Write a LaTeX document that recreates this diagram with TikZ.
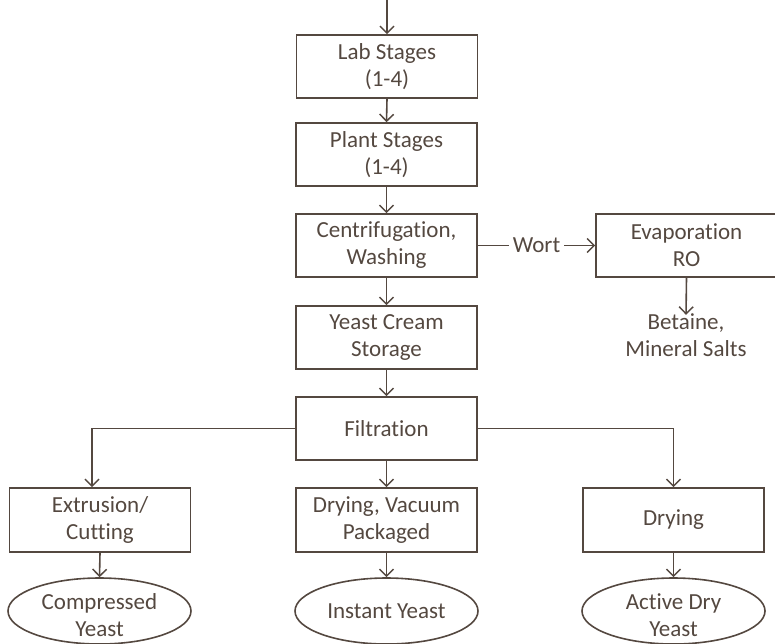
\documentclass[tikz,border=0pt]{standalone}
\usepackage{fontspec}
\setmainfont{Carlito}[RawFeature={-liga;-clig;-calt}]
\usetikzlibrary{arrows.meta,shapes.geometric,calc}
\definecolor{ink}{RGB}{84,72,64}
\tikzset{
  procbox/.style={draw=ink, line width=1.6pt, rectangle, minimum width=181pt, minimum height=63pt, inner sep=0pt, text=ink, align=center, font=\fontsize{23}{27}\selectfont},
  prodell/.style={draw=ink, line width=1.6pt, ellipse, minimum width=183pt, minimum height=66pt, inner sep=0pt},
  lbl/.style={text=ink, align=center, inner sep=0pt, font=\fontsize{23}{27}\selectfont},
  conn/.style={draw=ink, line width=1.6pt},
  arr/.style={conn, -{Straight Barb[length=7pt,width=14pt,line width=1.5pt]}}
}
\begin{document}
\begin{tikzpicture}[x=1pt,y=-1pt]
\useasboundingbox (0,0) rectangle (775,643);
\coordinate (start) at (387,0);
\node[procbox] (lab) at (387,66.5) {Lab Stages\\(1-4)};
\node[procbox] (plant) at (386.5,154.5) {Plant Stages\\(1-4)};
\node[procbox] (centr) at (386.5,245.5) {Centrifugation,\\Washing};
\node[procbox] (evap) at (686.5,245.5) {Evaporation\\RO};
\node[lbl] (wort) at (536.5,245.5) {Wort};
\node[lbl] (bet) at (686,335.5) {Betaine,\\Mineral Salts};
\node[procbox] (cream) at (386.5,337.5) {Yeast Cream\\Storage};
\node[procbox] (filt) at (386.5,428.5) {Filtration};
\node[procbox, minimum height=64pt] (ext) at (100,520) {Extrusion/\\Cutting};
\node[procbox, minimum height=64pt] (vac) at (386.5,520) {Drying, Vacuum\\Packaged};
\node[procbox, minimum height=64pt] (dry) at (673.5,520) {Drying};
\node[prodell] (e1) at (99.5,611) {};
\node[prodell] (e2) at (386.5,611) {};
\node[prodell] (e3) at (673.5,611) {};
\node[lbl] (t1) at ($(e1.center)+(0,4)$) {Compressed\\Yeast};
\node[lbl] (t2) at (e2.center) {Instant Yeast};
\node[lbl] (t3) at ($(e3.center)+(0,4)$) {Active Dry\\Yeast};
\coordinate (bl) at (92,428.5);
\coordinate (br) at (673.5,428.5);

\draw[arr] (start) -- (lab.north);
\draw[arr] (lab.south) -- (plant.north);
\draw[arr] (plant.south) -- (centr.north);
\draw[conn] (centr.east) -- ([xshift=-4pt]wort.west);
\draw[arr] ([xshift=4pt]wort.east) -- (evap.west);
\draw[arr] (evap.south) -- ([yshift=-1pt]bet.north);
\draw[arr] (centr.south) -- (cream.north);
\draw[arr] (cream.south) -- (filt.north);
\draw[arr] (filt.west) -- (bl) -- (bl |- ext.north);
\draw[arr] (filt.east) -- (br) -- (dry.north);
\draw[arr] (filt.south) -- (vac.north);
\draw[arr] (ext.south) -- (e1.north);
\draw[arr] (vac.south) -- (e2.north);
\draw[arr] (dry.south) -- (e3.north);
\end{tikzpicture}
\end{document}
